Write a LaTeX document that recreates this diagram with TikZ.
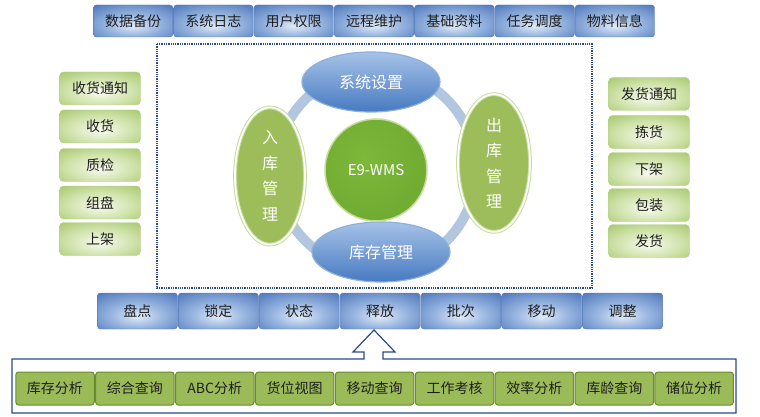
\documentclass[tikz,border=0pt]{standalone}
\usepackage{fontspec}
\setmainfont{Noto Sans CJK SC}
\usetikzlibrary{shapes.geometric}

\definecolor{labelgray}{HTML}{1E1E1E}
\definecolor{blueIn}{HTML}{E0EAF7}
\definecolor{blueMid}{HTML}{9AB7E1}
\definecolor{blueOut}{HTML}{4872B8}
\definecolor{boxedge}{HTML}{5579B6}
\definecolor{greenIn}{HTML}{F7FAEE}
\definecolor{greenMid}{HTML}{D0E3AC}
\definecolor{greenOut}{HTML}{98BC55}
\definecolor{sideedge}{HTML}{B7D189}
\definecolor{toolgreen}{HTML}{9BBB59}
\definecolor{tooledge}{HTML}{6A8B2C}
\definecolor{ovaltop}{HTML}{A6C2E8}
\definecolor{ovalbottom}{HTML}{477AC1}
\definecolor{ovaledge}{HTML}{8DB0DD}
\definecolor{ovalgreen}{HTML}{9CBD5A}
\definecolor{palegreen}{HTML}{C6DD9C}
\definecolor{coreIn}{HTML}{7DB83A}
\definecolor{coreOut}{HTML}{4A861B}
\definecolor{ringblue}{HTML}{B3C6E0}
\definecolor{framedark}{HTML}{2A4A8A}

\pgfdeclareradialshading{blueglow}{\pgfpoint{0bp}{-8bp}}{color(0bp)=(blueIn); color(16bp)=(blueMid); color(40bp)=(blueOut); color(70bp)=(blueOut)}
\pgfdeclareradialshading{greenglow}{\pgfpoint{0bp}{-6bp}}{color(0bp)=(greenIn); color(20bp)=(greenMid); color(45bp)=(greenOut); color(70bp)=(greenOut)}
\pgfdeclareradialshading{coreglow}{\pgfpoint{-6bp}{6bp}}{color(0bp)=(coreIn); color(30bp)=(coreIn!75!coreOut); color(50bp)=(coreOut); color(70bp)=(coreOut)}

\begin{document}
\begin{tikzpicture}[x=1pt, y=-1pt,
    topbox/.style={rectangle, rounded corners=3pt, draw=boxedge, shading=blueglow, minimum width=79.5pt, minimum height=32pt, text=labelgray, font=\fontsize{14}{14}\selectfont},
    sidebox/.style={rectangle, rounded corners=4pt, draw=sideedge, shading=greenglow, minimum width=81pt, minimum height=33pt, text=labelgray, font=\fontsize{14}{14}\selectfont},
    toolbox/.style={rectangle, rounded corners=3pt, fill=toolgreen, draw=tooledge, line width=1pt, minimum width=78.5pt, minimum height=33pt, text=labelgray, font=\fontsize{14}{14}\selectfont},
    blueoval/.style={ellipse, top color=ovaltop, bottom color=ovalbottom, draw=ovaledge, line width=1.2pt, minimum width=138pt, minimum height=60pt, text=white, font=\fontsize{16}{16}\selectfont},
    greenoval/.style={ellipse, fill=ovalgreen, draw=palegreen, line width=1pt, double=white, double distance=1.8pt, minimum width=70pt, minimum height=128pt, align=center, text=white, font=\fontsize{16}{25.5}\selectfont},
    core/.style={circle, shading=coreglow, draw=palegreen, line width=1.5pt, minimum size=102pt, text=white, font=\fontsize{15}{15}\selectfont}]
    \useasboundingbox (0, 0) rectangle (760, 417);

    %Top bar
    \node[topbox] at (133.1, 21) (backup) {数据备份};
    \node[topbox] at (213.4, 21) (syslog) {系统日志};
    \node[topbox] at (293.7, 21) (rights) {用户权限};
    \node[topbox] at (374.0, 21) (remote) {远程维护};
    \node[topbox] at (454.3, 21) (basics) {基础资料};
    \node[topbox] at (534.6, 21) (tasks) {任务调度};
    \node[topbox] at (614.9, 21) (material) {物料信息};

    %Inbound column
    \node[sidebox] at (100, 88.5) (recvnote) {收货通知};
    \node[sidebox] at (100, 126.5) (receive) {收货};
    \node[sidebox] at (100, 165) (inspect) {质检};
    \node[sidebox] at (100, 202.5) (pallet) {组盘};
    \node[sidebox] at (100, 239) (putaway) {上架};

    %Outbound column
    \node[sidebox] at (649, 94) (shipnote) {发货通知};
    \node[sidebox] at (649, 132) (pick) {拣货};
    \node[sidebox] at (649, 169) (unshelve) {下架};
    \node[sidebox] at (649, 205) (pack) {包装};
    \node[sidebox] at (649, 241) (ship) {发货};

    %Core frame
    \draw[framedark, densely dotted, line width=1.3pt] (157, 44) rectangle (592, 288);
    \coordinate (hub) at (376, 170);
    \draw[ringblue, line width=10pt] (hub) circle [radius=100pt];

    \node[blueoval] at (371, 82) (settings) {系统设置};
    \node[blueoval] at (381, 252) (stock) {库存管理};
    \node[greenoval] at (270, 176) (inbound) {入\\库\\管\\理};
    \node[greenoval, minimum width=72pt, minimum height=130pt] at (494, 163) (outbound) {出\\库\\管\\理};
    \node[core] at (hub) (wms) {E9-WMS};

    %Stock bar
    \node[topbox, minimum width=80pt, minimum height=36pt] at (137.4, 311) (count) {盘点};
    \node[topbox, minimum width=80pt, minimum height=36pt] at (218.3, 311) (lock) {锁定};
    \node[topbox, minimum width=80pt, minimum height=36pt] at (299.1, 311) (state) {状态};
    \node[topbox, minimum width=80pt, minimum height=36pt] at (380.0, 311) (release) {释放};
    \node[topbox, minimum width=80pt, minimum height=36pt] at (460.9, 311) (batch) {批次};
    \node[topbox, minimum width=80pt, minimum height=36pt] at (541.7, 311) (move) {移动};
    \node[topbox, minimum width=80pt, minimum height=36pt] at (622.6, 311) (adjust) {调整};

    %Report frame with arrow
    \draw[framedark, line width=1.2pt, line join=miter]
        (12, 359) -- (364, 359) -- (364, 352) -- (353, 352) -- (374, 330)
        -- (395, 352) -- (383, 352) -- (383, 359) -- (736, 359)
        -- (736, 413) -- (12, 413) -- cycle;

    %Reports
    \node[toolbox] at (55.0, 388.5) (stockan) {库存分析};
    \node[toolbox] at (134.9, 388.5) (query) {综合查询};
    \node[toolbox] at (214.8, 388.5) (abc) {ABC分析};
    \node[toolbox] at (294.7, 388.5) (binview) {货位视图};
    \node[toolbox] at (374.6, 388.5) (movequery) {移动查询};
    \node[toolbox] at (454.5, 388.5) (kpi) {工作考核};
    \node[toolbox] at (534.4, 388.5) (rate) {效率分析};
    \node[toolbox] at (614.3, 388.5) (agequery) {库龄查询};
    \node[toolbox] at (694.2, 388.5) (binan) {储位分析};

\end{tikzpicture}
\end{document}
